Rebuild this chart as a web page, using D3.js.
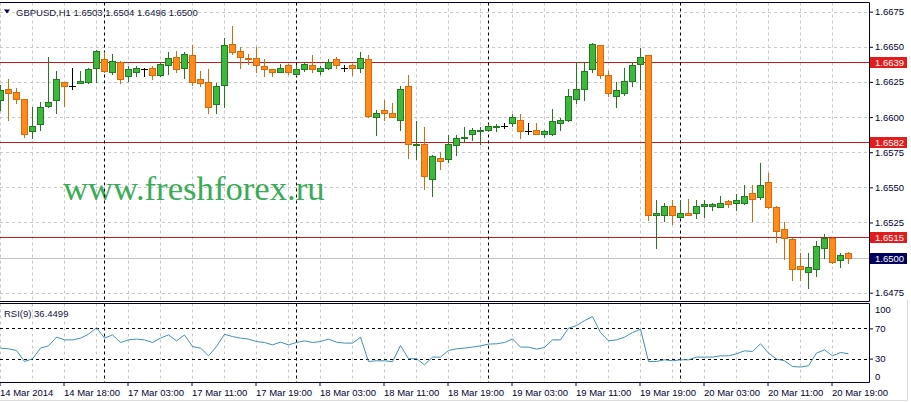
<!DOCTYPE html>
<html><head><meta charset="utf-8">
<script src="https://cdn.jsdelivr.net/npm/d3@7"></script>
<style>
body{margin:0;background:#fff;}
svg{display:block;}
text{font-family:"Liberation Sans",Arial,sans-serif;}
</style>
</head><body>
<svg id="chart" width="911" height="403"></svg>
<script>
// ---------------- DATA ----------------
const symbolTitle = "GBPUSD,H1 1.6503 1.6504 1.6496 1.6500";
const rsiTitle = "RSI(9) 36.4499";
const watermark = "www.freshforex.ru";

const barTimes = [
"14 Mar 10:00","14 Mar 11:00","14 Mar 12:00","14 Mar 13:00","14 Mar 14:00","14 Mar 15:00","14 Mar 16:00","14 Mar 17:00","14 Mar 18:00","14 Mar 19:00","14 Mar 20:00","14 Mar 21:00","14 Mar 22:00",
"17 Mar 00:00","17 Mar 01:00","17 Mar 02:00","17 Mar 03:00","17 Mar 04:00","17 Mar 05:00","17 Mar 06:00","17 Mar 07:00","17 Mar 08:00","17 Mar 09:00","17 Mar 10:00","17 Mar 11:00","17 Mar 12:00","17 Mar 13:00","17 Mar 14:00","17 Mar 15:00","17 Mar 16:00","17 Mar 17:00","17 Mar 18:00","17 Mar 19:00","17 Mar 20:00","17 Mar 21:00","17 Mar 22:00","17 Mar 23:00",
"18 Mar 00:00","18 Mar 01:00","18 Mar 02:00","18 Mar 03:00","18 Mar 04:00","18 Mar 05:00","18 Mar 06:00","18 Mar 07:00","18 Mar 08:00","18 Mar 09:00","18 Mar 10:00","18 Mar 11:00","18 Mar 12:00","18 Mar 13:00","18 Mar 14:00","18 Mar 15:00","18 Mar 16:00","18 Mar 17:00","18 Mar 18:00","18 Mar 19:00","18 Mar 20:00","18 Mar 21:00","18 Mar 22:00","18 Mar 23:00",
"19 Mar 00:00","19 Mar 01:00","19 Mar 02:00","19 Mar 03:00","19 Mar 04:00","19 Mar 05:00","19 Mar 06:00","19 Mar 07:00","19 Mar 08:00","19 Mar 09:00","19 Mar 10:00","19 Mar 11:00","19 Mar 12:00","19 Mar 13:00","19 Mar 14:00","19 Mar 15:00","19 Mar 16:00","19 Mar 17:00","19 Mar 18:00","19 Mar 19:00","19 Mar 20:00","19 Mar 21:00","19 Mar 22:00","19 Mar 23:00",
"20 Mar 00:00","20 Mar 01:00","20 Mar 02:00","20 Mar 03:00","20 Mar 04:00","20 Mar 05:00","20 Mar 06:00","20 Mar 07:00","20 Mar 08:00","20 Mar 09:00","20 Mar 10:00","20 Mar 11:00","20 Mar 12:00","20 Mar 13:00","20 Mar 14:00","20 Mar 15:00","20 Mar 16:00","20 Mar 17:00","20 Mar 18:00","20 Mar 19:00","20 Mar 20:00","20 Mar 21:00"
];

const openP = [
1.6612,1.6620,1.6618,1.6613,1.6590,1.6595,1.6608,1.6612,1.6625,1.6622,
1.6624,1.6625,1.6635,1.6641,1.6632,1.6639,1.6629,1.6632,1.6634,1.6635,
1.6630,1.6637,1.6643,1.6635,1.6644,1.6627,1.6625,1.6609,1.6623,1.6652,
1.6647,1.6642,1.6642,1.6636,1.6634,1.6632,1.6637,1.6631,1.6634,1.6637,
1.6633,1.6635,1.6641,1.6635,1.6637,1.6635,1.6641,1.6600,1.6605,1.6603,
1.6598,1.6622,1.6580,1.6581,1.6556,1.6571,1.6570,1.6580,1.6585,1.6588,
1.6590,1.6591,1.6593,1.6594,1.6596,1.6598,1.6590,1.6591,1.6588,1.6588,
1.6596,1.6598,1.6613,1.6620,1.6634,1.6651,1.6630,1.6615,1.6617,1.6626,
1.6638,1.6644,1.6530,1.6530,1.6537,1.6529,1.6532,1.6532,1.6537,1.6537,
1.6536,1.6540,1.6539,1.6539,1.6546,1.6543,1.6554,1.6536,1.6520,1.6513,
1.6494,1.6490,1.6492,1.6507,1.6514,1.6498,1.6503
];
const highP = [
1.6623,1.6627,1.6621,1.6613,1.6607,1.6611,1.6643,1.6633,1.6625,1.6635,
1.6633,1.6635,1.6648,1.6646,1.6645,1.6640,1.6636,1.6636,1.6635,1.6636,
1.6639,1.6646,1.6647,1.6646,1.6651,1.6633,1.6634,1.6624,1.6656,1.6665,
1.6650,1.6645,1.6650,1.6641,1.6634,1.6638,1.6638,1.6637,1.6639,1.6644,
1.6636,1.6641,1.6643,1.6637,1.6638,1.6646,1.6644,1.6605,1.6612,1.6610,
1.6622,1.6630,1.6597,1.6593,1.6573,1.6575,1.6587,1.6587,1.6593,1.6592,
1.6593,1.6595,1.6595,1.6596,1.6602,1.6602,1.6596,1.6596,1.6591,1.6606,
1.6599,1.6620,1.6639,1.6639,1.6653,1.6651,1.6633,1.6625,1.6635,1.6639,
1.6649,1.6644,1.6541,1.6539,1.6541,1.6541,1.6542,1.6541,1.6541,1.6539,
1.6544,1.6541,1.6545,1.6552,1.6552,1.6567,1.6560,1.6537,1.6525,1.6514,
1.6503,1.6503,1.6512,1.6517,1.6515,1.6503,1.6504
];
const lowP = [
1.6605,1.6598,1.6610,1.6586,1.6585,1.6591,1.6607,1.6603,1.6608,1.6620,
1.6624,1.6624,1.6625,1.6632,1.6631,1.6624,1.6626,1.6629,1.6629,1.6627,
1.6629,1.6631,1.6632,1.6628,1.6623,1.6622,1.6603,1.6603,1.6607,1.6645,
1.6635,1.6638,1.6632,1.6629,1.6629,1.6632,1.6631,1.6630,1.6633,1.6632,
1.6631,1.6634,1.6635,1.6633,1.6630,1.6632,1.6600,1.6587,1.6598,1.6600,
1.6591,1.6571,1.6570,1.6549,1.6544,1.6563,1.6568,1.6573,1.6583,1.6584,
1.6581,1.6590,1.6590,1.6592,1.6594,1.6585,1.6588,1.6588,1.6586,1.6587,
1.6591,1.6597,1.6610,1.6612,1.6632,1.6628,1.6615,1.6607,1.6616,1.6622,
1.6620,1.6527,1.6507,1.6526,1.6524,1.6529,1.6530,1.6528,1.6529,1.6534,
1.6536,1.6536,1.6534,1.6538,1.6526,1.6542,1.6535,1.6511,1.6499,1.6484,
1.6484,1.6478,1.6487,1.6500,1.6496,1.6493,1.6496
];
const closeP = [
1.6619,1.6617,1.6613,1.6588,1.6594,1.6607,1.6611,1.6627,1.6622,1.6622,
1.6626,1.6634,1.6647,1.6633,1.6640,1.6627,1.6634,1.6635,1.6634,1.6630,
1.6638,1.6642,1.6634,1.6645,1.6625,1.6624,1.6607,1.6622,1.6651,1.6646,
1.6643,1.6641,1.6637,1.6634,1.6632,1.6635,1.6632,1.6634,1.6638,1.6634,
1.6635,1.6639,1.6637,1.6635,1.6635,1.6642,1.6601,1.6603,1.6603,1.6600,
1.6620,1.6581,1.6581,1.6558,1.6572,1.6569,1.6581,1.6585,1.6586,1.6591,
1.6591,1.6594,1.6594,1.6594,1.6600,1.6590,1.6590,1.6588,1.6590,1.6597,
1.6598,1.6615,1.6620,1.6633,1.6652,1.6630,1.6617,1.6619,1.6626,1.6637,
1.6643,1.6530,1.6532,1.6537,1.6530,1.6532,1.6530,1.6537,1.6538,1.6538,
1.6539,1.6538,1.6541,1.6544,1.6542,1.6552,1.6536,1.6519,1.6514,1.6492,
1.6492,1.6493,1.6508,1.6514,1.6497,1.6502,1.6500
];
const rsi9 = [
43.9,43,40.7,26.2,29.8,43.9,46.9,58.4,54.8,54.8,
57.1,62.3,71,57.1,61.4,51.3,54.8,55.8,54.8,51.3,
57.1,61.4,53.5,61.4,46,43.9,33.7,46,62.3,59.2,
57.1,55.8,52.6,51.3,48.2,51.8,48.2,51.3,53.5,51.3,
52.6,55.8,51.8,50.5,50.5,58.4,26.2,27.1,27.1,25.8,
47.3,29.8,29.8,21.8,32,32,40.7,43,43.9,45.2,
46.9,49.2,49.6,51.3,56.1,45.2,45.2,42.6,44.7,54.8,
54.8,70.3,73.7,80.3,85.6,64.5,53.5,54.8,58.4,64.5,
68.9,26.2,26.2,28.4,27.1,28.4,28.4,32,32,32,
33.7,33.7,36.4,40.3,39.4,49.6,37.3,29.4,27.1,19.6,
18.8,20.5,37.3,41.6,33.7,38.1,36.4499
];

const priceTicks = [1.6475,1.6500,1.6525,1.6550,1.6575,1.6600,1.6625,1.6650,1.6675];
const levelLines = [1.6639,1.6582,1.6515];
const currentPrice = 1.6500;
const rsiTicks = [100,70,30,0];
const rsiLevels = [70,30];
const tickBars = ["14 Mar 10:00","14 Mar 18:00","17 Mar 03:00","17 Mar 11:00","17 Mar 19:00","18 Mar 03:00","18 Mar 11:00","18 Mar 19:00","19 Mar 03:00","19 Mar 11:00","19 Mar 19:00","20 Mar 03:00","20 Mar 11:00","20 Mar 19:00"];
const tickLabels = ["14 Mar 2014","14 Mar 18:00","17 Mar 03:00","17 Mar 11:00","17 Mar 19:00","18 Mar 03:00","18 Mar 11:00","18 Mar 19:00","19 Mar 03:00","19 Mar 11:00","19 Mar 19:00","20 Mar 03:00","20 Mar 11:00","20 Mar 19:00"];
const daySeparators = ["17 Mar 00:00","18 Mar 00:00","19 Mar 00:00","20 Mar 00:00"];

// ---------------- LAYOUT ----------------
const plotR = 869.5;
const mainTop = 2.5, mainBot = 301.5;
const rsiTop = 303.5, rsiBot = 382.5;
const axisCol = "#000033";
const fontSize = "9.5px";

const svg = d3.select("#chart");
const defs = svg.append("defs");
defs.append("clipPath").attr("id","clipMain").append("rect")
  .attr("x",0).attr("y",mainTop).attr("width",plotR).attr("height",mainBot-mainTop);
defs.append("clipPath").attr("id","clipRsi").append("rect")
  .attr("x",0).attr("y",rsiTop).attr("width",plotR).attr("height",rsiBot-rsiTop);

const x = d3.scalePoint().domain(barTimes).range([0.5, 848.5]);
const y = d3.scaleLinear().domain([1.6475,1.6675]).range([292.7,11.7]);
const yr = d3.scaleLinear().domain([30,70]).range([358.6,328.4]);
const cy = v => Math.round(y(v)) + 0.5;

const gMain = svg.append("g").attr("clip-path","url(#clipMain)");
const gRsi = svg.append("g").attr("clip-path","url(#clipRsi)");

// grid (horizontal)
gMain.selectAll("line.hg").data(priceTicks).join("line")
  .attr("x1",0).attr("x2",plotR).attr("y1",d=>cy(d)).attr("y2",d=>cy(d))
  .attr("stroke","#c8c8c8").attr("stroke-dasharray","3,3");

// grid (vertical) every 4 bars
const gridBars = barTimes.filter((d,i)=>i%4===0);
[[gMain,mainTop,mainBot],[gRsi,rsiTop,rsiBot]].forEach(([g,t,b])=>{
  g.selectAll("line.vg").data(gridBars).join("line")
    .attr("x1",d=>x(d)).attr("x2",d=>x(d)).attr("y1",t).attr("y2",b)
    .attr("stroke","#c8c8c8").attr("stroke-dasharray","3,3");
});

// watermark
gMain.append("text").attr("x",63).attr("y",200)
  .style("font-family","'Liberation Serif','Times New Roman',serif")
  .style("font-size","34.7px").attr("fill","#3aab57").text(watermark);

// current price line & level lines
gMain.append("line").attr("x1",0).attr("x2",plotR)
  .attr("y1",cy(currentPrice)).attr("y2",cy(currentPrice)).attr("stroke","#c0c0c0");
gMain.selectAll("line.lvl").data(levelLines).join("line")
  .attr("x1",0).attr("x2",plotR).attr("y1",d=>cy(d)).attr("y2",d=>cy(d))
  .attr("stroke","#c81818");

// day separators
[[gMain,mainTop,mainBot],[gRsi,rsiTop,rsiBot]].forEach(([g,t,b])=>{
  g.selectAll("line.ds").data(daySeparators).join("line")
    .attr("x1",d=>x(d)).attr("x2",d=>x(d)).attr("y1",t).attr("y2",b)
    .attr("stroke","#000").attr("stroke-dasharray","3,3");
});

// candles
const candles = barTimes.map((t,i)=>({t,o:openP[i],h:highP[i],l:lowP[i],c:closeP[i]}));
const styleOf = d => d.c>d.o ? {fill:"#3cb83c",stroke:"#217a21"} :
                     d.c<d.o ? {fill:"#ff8c1a",stroke:"#d8680c"} :
                               {fill:"#000",stroke:"#000"};
const cg = gMain.selectAll("g.candle").data(candles).join("g");
cg.append("line")
  .attr("x1",d=>x(d.t)).attr("x2",d=>x(d.t))
  .attr("y1",d=>cy(d.h)-0.5).attr("y2",d=>cy(d.l)+0.5)
  .attr("stroke",d=>styleOf(d).stroke);
cg.each(function(d){
  const g = d3.select(this), s = styleOf(d);
  if (d.o===d.c){
    g.append("line").attr("x1",x(d.t)-3.5).attr("x2",x(d.t)+3.5)
      .attr("y1",cy(d.c)).attr("y2",cy(d.c)).attr("stroke","#000");
  } else {
    const top = cy(Math.max(d.o,d.c)), bot = cy(Math.min(d.o,d.c));
    g.append("rect").attr("x",x(d.t)-3).attr("y",top)
      .attr("width",6).attr("height",Math.max(bot-top,1))
      .attr("fill",s.fill).attr("stroke",s.stroke);
  }
});

// RSI levels and line
gRsi.selectAll("line.rl").data(rsiLevels).join("line")
  .attr("x1",0).attr("x2",plotR).attr("y1",d=>Math.round(yr(d))+0.5).attr("y2",d=>Math.round(yr(d))+0.5)
  .attr("stroke","#000").attr("stroke-dasharray","3,3");
gRsi.append("path").datum(rsi9)
  .attr("d", d3.line().x((d,i)=>x(barTimes[i])).y(d=>yr(d)))
  .attr("fill","none").attr("stroke","#3f8fb8").attr("stroke-width",1);

// frames
const frame = svg.append("g").attr("stroke",axisCol).attr("fill","none");
frame.append("path").attr("d",`M0,${mainTop}H${plotR}V${mainBot}H0`);
frame.append("path").attr("d",`M0,${rsiTop}H${plotR}V${rsiBot}H0`);
// outer window edge
svg.append("path").attr("d","M907.5,300V400.5H0").attr("stroke","#dcdcdc").attr("fill","none");

// price axis
const pAxis = svg.append("g").attr("transform",`translate(${plotR-0.5},0)`)
  .call(d3.axisRight(y).tickValues(priceTicks).tickFormat(d3.format(".4f")).tickSize(4).tickPadding(2));
pAxis.select(".domain").remove();
pAxis.selectAll("line").attr("stroke",axisCol);
pAxis.selectAll("text").style("font-size",fontSize).attr("fill",axisCol).style("font-family","'Liberation Sans',Arial,sans-serif");

// level labels
const lbl = svg.append("g");
const boxes = levelLines.map(v=>({v,bg:"#e41b1b"})).concat([{v:currentPrice,bg:"#00005e"}]);
lbl.selectAll("rect").data(boxes).join("rect")
  .attr("x",870).attr("y",d=>cy(d.v)-5.5).attr("width",37).attr("height",11).attr("fill",d=>d.bg);
lbl.selectAll("text").data(boxes).join("text")
  .attr("x",875).attr("y",d=>cy(d.v)+3.4).style("font-size",fontSize).attr("fill","#fff")
  .text(d=>d3.format(".4f")(d.v));

// RSI axis
const rAxis = svg.append("g").attr("transform",`translate(${plotR-0.5},0)`)
  .call(d3.axisRight(yr).tickValues(rsiTicks).tickSize(4).tickPadding(2));
rAxis.select(".domain").remove();
rAxis.selectAll("line").attr("stroke",axisCol).attr("opacity",d=>(d===100||d===0)?0:1);
rAxis.selectAll("text").style("font-size",fontSize).attr("fill",axisCol)
  .attr("dy",d=> d===100 ? "0.75em" : d===0 ? "-0.2em" : "0.32em");

// time axis
const tAxis = svg.append("g").attr("transform",`translate(-1,${rsiBot-0.5})`)
  .call(d3.axisBottom(x).tickValues(tickBars).tickFormat((d,i)=>tickLabels[i]).tickSize(4).tickPadding(3));
tAxis.select(".domain").remove();
tAxis.selectAll("line").attr("stroke",axisCol);
tAxis.selectAll("text").style("font-size",fontSize).attr("fill",axisCol).attr("text-anchor","start");

// titles
svg.append("path").attr("d","M4,9.5H10L7,13.5Z").attr("fill","#000050");
svg.append("text").attr("x",16).attr("y",15.6).style("font-size",fontSize).attr("fill","#14143c").text(symbolTitle);
svg.append("text").attr("x",4).attr("y",316.6).style("font-size",fontSize).attr("fill","#14143c").text(rsiTitle);
</script>
</body></html>
